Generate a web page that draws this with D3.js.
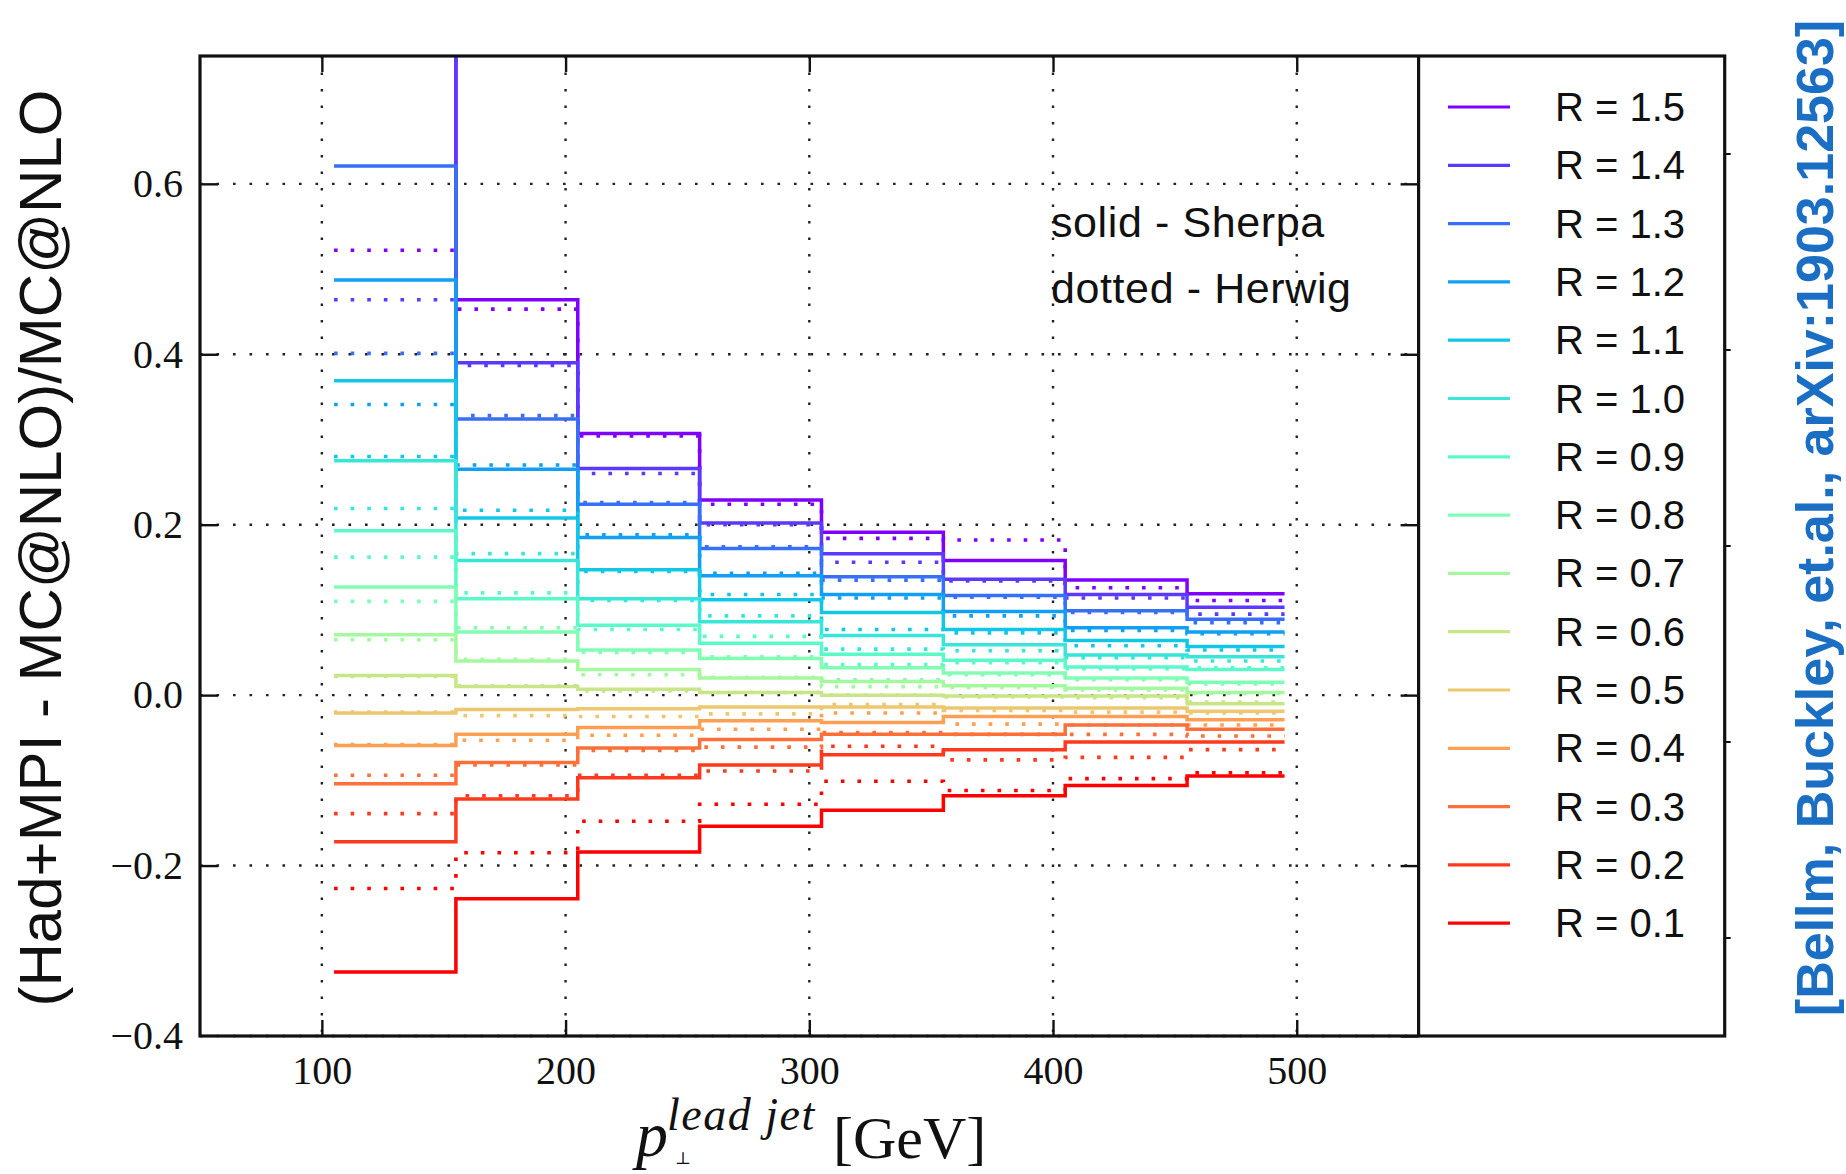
<!DOCTYPE html>
<html><head><meta charset="utf-8">
<script src="https://cdnjs.cloudflare.com/ajax/libs/d3/7.8.5/d3.min.js"></script>
<style>html,body{margin:0;padding:0;background:#fff;overflow:hidden}</style>
</head><body>
<svg id="c" width="1846" height="1174" xmlns="http://www.w3.org/2000/svg"></svg>
<script>
// ---------------- data ----------------
const binEdges = [105, 155, 205, 255, 305, 355, 405, 455, 495];
const radiusLabels = ["1.5","1.4","1.3","1.2","1.1","1.0","0.9","0.8","0.7","0.6","0.5","0.4","0.3","0.2","0.1"];
const seriesColors = ["#8000ff","#5b39fd","#376ff9","#129ff1","#12c7e6","#37e6d8","#5bf9c7","#80ffb4",
                      "#a4f99f","#c8e688","#edc76f","#ff9f54","#ff6f39","#ff391d","#ff0000"];
const xTicks = [100, 200, 300, 400, 500];
const yTicks = [-0.4, -0.2, 0.0, 0.2, 0.4, 0.6];

// solid - Sherpa
const sherpaR15 = [0.90, 0.464, 0.307, 0.229, 0.191, 0.158, 0.135, 0.119];
const sherpaR14 = [0.79, 0.390, 0.266, 0.202, 0.166, 0.136, 0.118, 0.103];
const sherpaR13 = [0.621, 0.324, 0.224, 0.172, 0.139, 0.117, 0.099, 0.089];
const sherpaR12 = [0.487, 0.265, 0.185, 0.140, 0.118, 0.098, 0.079, 0.074];
const sherpaR11 = [0.369, 0.208, 0.147, 0.112, 0.097, 0.077, 0.064, 0.057];
const sherpaR10 = [0.275, 0.158, 0.113, 0.086, 0.070, 0.059, 0.047, 0.045];
const sherpaR09 = [0.193, 0.113, 0.082, 0.061, 0.048, 0.041, 0.033, 0.030];
const sherpaR08 = [0.127, 0.074, 0.053, 0.043, 0.032, 0.026, 0.020, 0.015];
const sherpaR07 = [0.071, 0.040, 0.030, 0.020, 0.016, 0.011, 0.008, 0.003];
const sherpaR06 = [0.023, 0.010, 0.007, 0.003, 0.000, -0.001, -0.001, -0.010];
const sherpaR05 = [-0.021, -0.017, -0.016, -0.014, -0.014, -0.015, -0.015, -0.019];
const sherpaR04 = [-0.059, -0.046, -0.038, -0.030, -0.032, -0.025, -0.025, -0.029];
const sherpaR03 = [-0.104, -0.079, -0.062, -0.052, -0.046, -0.046, -0.035, -0.040];
const sherpaR02 = [-0.172, -0.122, -0.097, -0.082, -0.070, -0.064, -0.055, -0.055];
const sherpaR01 = [-0.325, -0.239, -0.184, -0.154, -0.135, -0.118, -0.106, -0.095];

// dotted - Herwig
const herwigR15 = [0.522, 0.453, 0.304, 0.224, 0.184, 0.182, 0.126, 0.111];
const herwigR14 = [0.464, 0.387, 0.260, 0.200, 0.156, 0.134, 0.114, 0.095];
const herwigR13 = [0.401, 0.328, 0.226, 0.174, 0.135, 0.115, 0.097, 0.085];
const herwigR12 = [0.341, 0.270, 0.188, 0.143, 0.114, 0.093, 0.076, 0.072];
const herwigR11 = [0.280, 0.217, 0.145, 0.118, 0.077, 0.073, 0.058, 0.053];
const herwigR10 = [0.219, 0.166, 0.111, 0.093, 0.054, 0.052, 0.044, 0.040];
const herwigR09 = [0.162, 0.120, 0.077, 0.069, 0.036, 0.038, 0.031, 0.032];
const herwigR08 = [0.110, 0.079, 0.050, 0.045, 0.018, 0.024, 0.018, 0.013];
const herwigR07 = [0.065, 0.042, 0.024, 0.021, 0.010, 0.009, 0.006, 0.002];
const herwigR06 = [0.022, 0.011, 0.005, 0.003, 0.000, -0.002, -0.003, -0.008];
const herwigR05 = [-0.020, -0.024, -0.025, -0.022, -0.011, -0.018, -0.020, -0.021];
const herwigR04 = [-0.058, -0.053, -0.047, -0.040, -0.021, -0.034, -0.035, -0.035];
const herwigR03 = [-0.094, -0.082, -0.065, -0.061, -0.044, -0.046, -0.046, -0.048];
const herwigR02 = [-0.139, -0.118, -0.094, -0.089, -0.060, -0.076, -0.073, -0.064];
const herwigR01 = [-0.227, -0.185, -0.148, -0.128, -0.101, -0.112, -0.098, -0.091];

const sherpaSeries = [sherpaR15, sherpaR14, sherpaR13, sherpaR12, sherpaR11, sherpaR10, sherpaR09, sherpaR08,
                      sherpaR07, sherpaR06, sherpaR05, sherpaR04, sherpaR03, sherpaR02, sherpaR01];
const herwigSeries = [herwigR15, herwigR14, herwigR13, herwigR12, herwigR11, herwigR10, herwigR09, herwigR08,
                      herwigR07, herwigR06, herwigR05, herwigR04, herwigR03, herwigR02, herwigR01];

// ---------------- layout ----------------
const L = 200, R = 1418.6, T = 56, B = 1036, LEGR = 1724.7;
const svg = d3.select("#c");
const x = d3.scaleLinear().domain([50, 550]).range([L, R]);
const y = d3.scaleLinear().domain([-0.4, 0.75]).range([B, T]);

svg.append("rect").attr("width", 1846).attr("height", 1174).attr("fill", "#fff");

svg.append("defs").append("clipPath").attr("id", "plotclip")
  .append("rect").attr("x", L).attr("y", T).attr("width", R - L).attr("height", B - T);

// grid
const grid = svg.append("g").attr("stroke", "#222").attr("stroke-width", 2.4).attr("stroke-dasharray", "2.6 13.9");
grid.selectAll("line.gx").data(xTicks).join("line").attr("class", "gx")
  .attr("x1", d => x(d)).attr("x2", d => x(d)).attr("y1", T).attr("y2", B);
grid.selectAll("line.gy").data(yTicks).join("line").attr("class", "gy")
  .attr("x1", L).attr("x2", R).attr("y1", d => y(d)).attr("y2", d => y(d));

// data
const step = d3.line().x(d => x(d[0])).y(d => y(d[1])).curve(d3.curveStepAfter);
const toPts = vals => binEdges.map((e, i) => [e, vals[Math.min(i, vals.length - 1)]]);
const dataG = svg.append("g").attr("clip-path", "url(#plotclip)").attr("fill", "none");
radiusLabels.forEach((r, i) => {
  dataG.append("path").attr("d", step(toPts(sherpaSeries[i])))
    .attr("stroke", seriesColors[i]).attr("stroke-width", 3.5);
  dataG.append("path").attr("d", step(toPts(herwigSeries[i])))
    .attr("stroke", seriesColors[i]).attr("stroke-width", 3.6)
    .attr("stroke-dasharray", "3.6 13");
});

// axes
const serif = "'Liberation Serif', 'Times New Roman', serif";
const sans = "'Liberation Sans', Arial, Helvetica, sans-serif";
const fmt = d3.format(".1f");

const yAx = svg.append("g").attr("transform", `translate(${L},0)`)
  .call(d3.axisLeft(y).tickValues(yTicks).tickSize(-18).tickPadding(17).tickFormat(fmt));
const xAx = svg.append("g").attr("transform", `translate(0,${B})`)
  .call(d3.axisBottom(x).tickValues(xTicks).tickSize(-16).tickPadding(20).tickFormat(d3.format("d")));
const yAxR = svg.append("g").attr("transform", `translate(${R},0)`)
  .call(d3.axisRight(y).tickValues(yTicks).tickSize(-18).tickFormat(""));
const xAxT = svg.append("g").attr("transform", `translate(0,${T})`)
  .call(d3.axisTop(x).tickValues(xTicks).tickSize(-16).tickFormat(""));
[yAx, xAx, yAxR, xAxT].forEach(g => {
  g.select(".domain").remove();
  g.selectAll(".tick line").attr("stroke", "#111").attr("stroke-width", 2.4);
  g.selectAll(".tick text").attr("font-family", serif).attr("font-size", 40).attr("fill", "#111");
});
yAx.selectAll(".tick line").filter(d => d === -0.4).remove();

// spines
const sp = svg.append("g").attr("stroke", "#111").attr("stroke-width", 3.2).attr("fill", "none");
sp.append("rect").attr("x", L).attr("y", T).attr("width", LEGR - L).attr("height", B - T);
sp.append("line").attr("x1", R).attr("x2", R).attr("y1", T).attr("y2", B);
// small ticks on legend's right border
const legFr = [0.1, 0.3, 0.5, 0.7, 0.9];
sp.selectAll("line.lt").data(legFr).join("line").attr("class", "lt")
  .attr("x1", LEGR).attr("x2", LEGR + 6)
  .attr("y1", d => T + d * (B - T)).attr("y2", d => T + d * (B - T)).attr("stroke-width", 2);

// legend
const leg = svg.append("g");
radiusLabels.forEach((r, i) => {
  const ly = 107 + i * 58.3;
  leg.append("line").attr("x1", 1448).attr("x2", 1510).attr("y1", ly).attr("y2", ly)
    .attr("stroke", seriesColors[i]).attr("stroke-width", 3.2);
  leg.append("text").attr("x", 1555).attr("y", ly + 14).attr("font-family", sans)
    .attr("font-size", 40).attr("fill", "#111").text("R = " + r);
});

// annotations
svg.append("text").attr("x", 1051).attr("y", 237).attr("font-family", sans).attr("font-size", 43)
  .attr("letter-spacing", 0.6).attr("fill", "#111").text("solid - Sherpa");
svg.append("text").attr("x", 1051).attr("y", 303).attr("font-family", sans).attr("font-size", 43)
  .attr("letter-spacing", 0.6).attr("fill", "#111").text("dotted - Herwig");

// y label
svg.append("text").attr("transform", "translate(61,548) rotate(-90)").attr("text-anchor", "middle")
  .attr("font-family", sans).attr("font-size", 60).attr("fill", "#111")
  .text("(Had+MPI - MC@NLO)/MC@NLO");

// x label
svg.append("text").attr("x", 636).attr("y", 1156).attr("font-family", serif).attr("font-style", "italic")
  .attr("font-size", 64).attr("fill", "#111").text("p");
svg.append("text").attr("x", 667).attr("y", 1130).attr("font-family", serif).attr("font-style", "italic")
  .attr("font-size", 46).attr("letter-spacing", 1.5).attr("fill", "#111").text("lead jet");
svg.append("text").attr("x", 675).attr("y", 1164).attr("font-family", "'DejaVu Serif', serif")
  .attr("font-size", 17).attr("fill", "#111").text("⊥");
svg.append("text").attr("x", 833).attr("y", 1158).attr("font-family", serif)
  .attr("font-size", 60).attr("fill", "#111").text("[GeV]");

// citation
svg.append("text").attr("transform", "translate(1833,518) rotate(-90)").attr("text-anchor", "middle")
  .attr("font-family", sans).attr("font-weight", "bold").attr("font-size", 52).attr("fill", "#1a6ec4")
  .text("[Bellm, Buckley, et.al., arXiv:1903.12563]");
</script>
</body></html>
